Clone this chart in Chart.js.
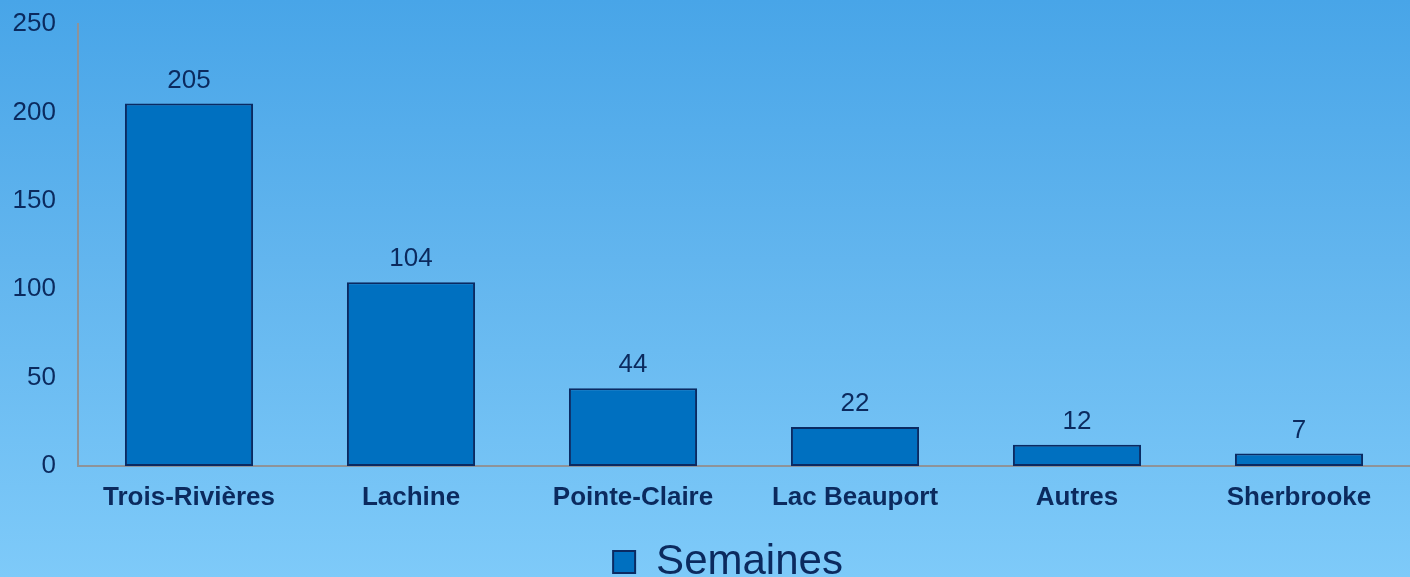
<!DOCTYPE html>
<html>
<head>
<meta charset="utf-8">
<script src="https://cdn.jsdelivr.net/npm/chart.js@4"></script>
<style>
  html, body { margin: 0; padding: 0; width: 1410px; height: 577px; overflow: hidden; }
  body { background: linear-gradient(to bottom, #48a5e8 0%, #62b5ee 45%, #7ecaf9 100%); font-family: 'Liberation Sans', Arial, sans-serif; }
  #wrap { position: relative; width: 1410px; height: 577px; }
</style>
</head>
<body>
<div id="wrap"><canvas id="c" width="1410" height="577"></canvas></div>
<script>
const categories = ['Trois-Rivières', 'Lachine', 'Pointe-Claire', 'Lac Beauport', 'Autres', 'Sherbrooke'];
const semaines = [205, 104, 44, 22, 12, 7];
const seriesName = 'Semaines';
const yTicks = [0, 50, 100, 150, 200, 250];

const FONT = "'Liberation Sans', Arial, Helvetica, sans-serif";
const textColor = '#0b2a5e';
const axisColor = '#8e9399';

const valueLabels = {
  id: 'valueLabels',
  afterDatasetsDraw(chart) {
    const ctx = chart.ctx;
    const meta = chart.getDatasetMeta(0);
    ctx.save();
    ctx.font = '26px ' + FONT;
    ctx.fillStyle = textColor;
    ctx.textAlign = 'center';
    ctx.textBaseline = 'alphabetic';
    meta.data.forEach((bar, i) => {
      ctx.fillText(String(chart.data.datasets[0].data[i]), bar.x, bar.y - 16);
    });
    ctx.restore();
  }
};

const legendShift = {
  id: 'legendShift',
  afterLayout(chart) {
    const lg = chart.legend;
    if (!lg) return;
    lg.top += 16; lg.bottom += 16;
    lg.left += 23; lg.right += 23;
  }
};

function build() {
  new Chart(document.getElementById('c'), {
    type: 'bar',
    data: {
      labels: categories,
      datasets: [{
        label: seriesName,
        data: semaines,
        backgroundColor: '#0070c0',
        borderColor: '#0a2a62',
        borderWidth: 2,
        borderSkipped: false,
        barPercentage: 1.0,
        categoryPercentage: 0.577
      }]
    },
    options: {
      responsive: false,
      animation: false,
      devicePixelRatio: 1,
      layout: { padding: { top: 24, left: 0, right: 0, bottom: 0 } },
      plugins: {
        tooltip: { enabled: false },
        legend: {
          position: 'bottom',
          labels: {
            color: textColor,
            font: { family: FONT, size: 42 },
            boxWidth: 22,
            boxHeight: 22,
            padding: 10
          }
        }
      },
      scales: {
        x: {
          grid: { display: false, drawTicks: false },
          border: { display: true, color: axisColor, width: 2 },
          ticks: {
            color: textColor,
            font: { family: FONT, size: 26, weight: 'bold' },
            padding: 16,
            maxRotation: 0,
            autoSkip: false
          },
          afterFit(scale) { scale.height = 577 - 466 - (42 + 10 + 10); }
        },
        y: {
          min: 0,
          max: 250,
          grid: { display: false, drawTicks: false },
          border: { display: true, color: axisColor, width: 2 },
          afterBuildTicks(scale) { scale.ticks = yTicks.map(v => ({ value: v })); },
          ticks: {
            color: textColor,
            font: { family: FONT, size: 26 },
            padding: 22
          },
          afterFit(scale) {
            scale.width = 78;
            scale.paddingTop = 0;
            scale.paddingBottom = 0;
          }
        }
      }
    },
    plugins: [valueLabels, legendShift]
  });
}

Promise.all([
  document.fonts.load("26px 'Liberation Sans'"),
  document.fonts.load("bold 26px 'Liberation Sans'"),
  document.fonts.load("42px 'Liberation Sans'")
]).then(build, build);
</script>
</body>
</html>
